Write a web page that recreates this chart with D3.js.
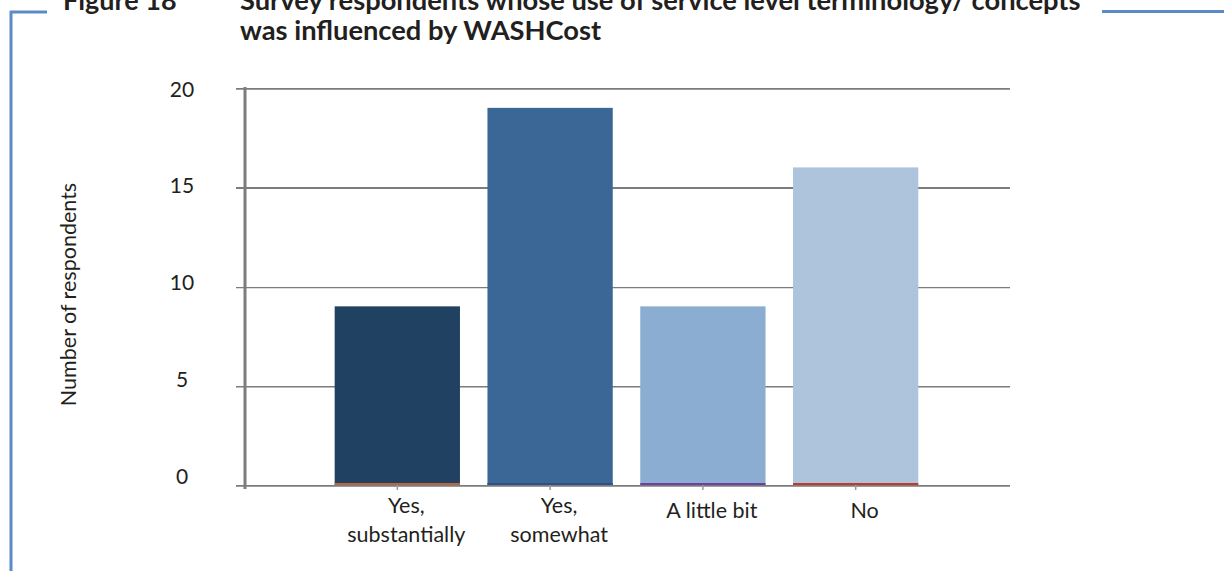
<!DOCTYPE html>
<html>
<head>
<meta charset="utf-8">
<script src="https://cdn.jsdelivr.net/npm/d3@7"></script>
<style>
  body { margin: 0; background: #fff; }
  svg { display: block; }
  text { font-family: Lato, "Noto Sans", sans-serif; fill: #231f20; }
</style>
</head>
<body>
<div id="chart"></div>
<script>
// respondents per answer
var categories = ["Yes,\nsubstantially", "Yes,\nsomewhat", "A little bit", "No"];
var respondents = [9, 19, 9, 16];
var yTicks = [0, 5, 10, 15, 20];
var barColors = ["#214162", "#3a6796", "#8aadd1", "#adc4dc"];
var edgeColors = ["#b8683a", "#2f4f86", "#6a3fa0", "#c0392b"];
var titleLines = ["Survey respondents whose use of service level terminology/ concepts",
                  "was influenced by WASHCost"];

(function () {
    'use strict';

    var w = 1224,
        h = 571;

    var svg = d3.select("#chart")
        .append("svg")
        .attr("width", w)
        .attr("height", h);

    // slight softening for the grey rules (user space, so flat lines keep a region)
    svg.append("defs").append("filter")
        .attr("id", "soft")
        .attr("filterUnits", "userSpaceOnUse")
        .attr("x", 0).attr("y", 0).attr("width", w).attr("height", h)
        .append("feGaussianBlur")
        .attr("stdDeviation", 0.5);

    // blue frame round the figure
    var frame = "#5b8bc7";
    svg.append("line").attr("x1", 11).attr("x2", 11).attr("y1", 11).attr("y2", h)
        .attr("stroke", frame).attr("stroke-width", 3);
    svg.append("line").attr("x1", 10).attr("x2", 47).attr("y1", 12).attr("y2", 12)
        .attr("stroke", frame).attr("stroke-width", 3);
    svg.append("line").attr("x1", 1102).attr("x2", w).attr("y1", 11.5).attr("y2", 11.5)
        .attr("stroke", frame).attr("stroke-width", 3);

    // heading
    svg.append("text")
        .attr("x", 63).attr("y", 10)
        .style("font-size", "27px").style("font-weight", 700)
        .text("Figure 18");

    svg.append("g").selectAll("text")
        .data(titleLines)
        .enter().append("text")
        .attr("x", 240)
        .attr("y", function (d, i) { return 10 + i * 29.5; })
        .style("font-size", "27.3px").style("font-weight", 700)
        .text(function (d) { return d; });

    var plotLeft = 243, plotRight = 1010, plotTop = 88, plotBottom = 485;

    var x = d3.scaleBand()
        .domain(categories)
        .range([plotLeft, plotRight])
        .paddingInner(0.18)
        .paddingOuter(0.6);

    var y = d3.scaleLinear()
        .domain([0, 20])
        .range([plotBottom, plotTop]);

    // tick numbers sit on a slightly tighter spacing than the rules
    var yLabel = d3.scaleLinear()
        .domain([0, 20])
        .range([476, 89]);

    // gridlines
    var yAxis = svg.append("g")
        .attr("transform", "translate(236,0)")
        .call(d3.axisLeft(y).tickValues(yTicks).tickSize(-(plotRight - 236)).tickSizeOuter(0).tickFormat(""));
    yAxis.select(".domain").remove();
    yAxis.selectAll(".tick line")
        .attr("stroke", "#7b7b7b")
        .attr("stroke-width", 2.6)
        .attr("filter", "url(#soft)");

    svg.append("g").selectAll("text")
        .data(yTicks)
        .enter().append("text")
        .attr("x", 182)
        .attr("y", function (d) { return yLabel(d); })
        .attr("dy", "0.36em")
        .attr("text-anchor", "middle")
        .style("font-size", "21px")
        .text(function (d) { return d; });

    // vertical axis line
    svg.append("line")
        .attr("x1", 245).attr("x2", 245)
        .attr("y1", y(20) - 1).attr("y2", y(0) + 4)
        .attr("stroke", "#7d7d7d")
        .attr("stroke-width", 3)
        .attr("filter", "url(#soft)");

    svg.append("text")
        .attr("transform", "translate(76," + ((y(20) + y(0)) / 2 + 8) + ") rotate(-90)")
        .attr("text-anchor", "middle")
        .style("font-size", "21.5px")
        .text("Number of respondents");

    // bars
    var bars = svg.append("g").selectAll("g")
        .data(respondents)
        .enter().append("g");

    bars.append("rect")
        .attr("x", function (d, i) { return x(categories[i]); })
        .attr("y", function (d) { return y(d); })
        .attr("width", x.bandwidth())
        .attr("height", function (d) { return y(0) - y(d); })
        .attr("fill", function (d, i) { return barColors[i]; });

    bars.append("line")
        .attr("x1", function (d, i) { return x(categories[i]); })
        .attr("x2", function (d, i) { return x(categories[i]) + x.bandwidth(); })
        .attr("y1", y(0) - 1).attr("y2", y(0) - 1)
        .attr("stroke", function (d, i) { return edgeColors[i]; })
        .attr("stroke-width", 2);

    // x ticks + labels
    var xAxis = svg.append("g")
        .attr("transform", "translate(0," + y(0) + ")")
        .call(d3.axisBottom(x).tickSize(5).tickFormat(""));
    xAxis.select(".domain").remove();
    xAxis.selectAll(".tick line").attr("stroke", "#999").attr("stroke-width", 1.5);

    svg.append("g").selectAll("text")
        .data(categories)
        .enter().append("text")
        .attr("text-anchor", "middle")
        .style("font-size", "21.5px")
        .attr("y", function (d) { return d.indexOf("\n") >= 0 ? y(0) + 28 : y(0) + 33; })
        .each(function (d) {
            var cx = x(d) + x.bandwidth() / 2 + 9;
            var lines = d.split("\n");
            d3.select(this).selectAll("tspan")
                .data(lines)
                .enter().append("tspan")
                .attr("x", cx)
                .attr("dy", function (l, i) { return i ? 29 : 0; })
                .text(function (l) { return l; });
        });
})();
</script>
</body>
</html>
